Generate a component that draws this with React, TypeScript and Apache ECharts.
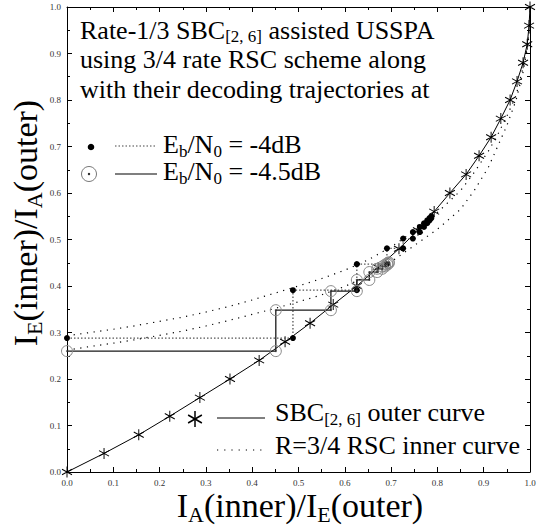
import React, { useEffect, useRef } from 'react';
import * as echarts from 'echarts';

// ---- data ----
const outerX = [0, 0.08, 0.155, 0.222, 0.287, 0.352, 0.415, 0.471, 0.525, 0.575, 0.626, 0.672, 0.717, 0.758, 0.793, 0.827, 0.862, 0.89, 0.916, 0.937, 0.957, 0.972, 0.985, 0.994, 0.998, 1.0];
const outerY = [0, 0.04, 0.08, 0.12, 0.16, 0.2, 0.24, 0.28, 0.32, 0.36, 0.4, 0.44, 0.48, 0.52, 0.56, 0.6, 0.64, 0.68, 0.72, 0.76, 0.8, 0.84, 0.88, 0.92, 0.96, 1.0];

const innerX = [0, 0.05, 0.1, 0.15, 0.2, 0.25, 0.3, 0.35, 0.4, 0.45, 0.5, 0.55, 0.6, 0.65, 0.7, 0.75, 0.8, 0.85, 0.88, 0.91, 0.93, 0.95, 0.97, 0.985, 0.995, 1.0];
const inner4Y = [0.293, 0.3, 0.307, 0.315, 0.324, 0.333, 0.344, 0.356, 0.37, 0.385, 0.4, 0.416, 0.434, 0.456, 0.484, 0.518, 0.558, 0.605, 0.645, 0.69, 0.725, 0.765, 0.81, 0.87, 0.92, 0.97];
const inner45Y = [0.262, 0.27, 0.277, 0.285, 0.294, 0.303, 0.314, 0.326, 0.339, 0.352, 0.366, 0.381, 0.399, 0.422, 0.452, 0.487, 0.522, 0.565, 0.606, 0.655, 0.7, 0.745, 0.8, 0.86, 0.915, 0.96];

const traj4X = [0, 0.488, 0.488, 0.626, 0.626, 0.691, 0.691, 0.726, 0.726, 0.747, 0.747, 0.762, 0.762, 0.771, 0.771, 0.778, 0.778, 0.783, 0.783, 0.787, 0.787];
const traj4Y = [0.288, 0.288, 0.391, 0.391, 0.447, 0.447, 0.481, 0.481, 0.502, 0.502, 0.516, 0.516, 0.527, 0.527, 0.535, 0.535, 0.541, 0.541, 0.546, 0.546, 0.55];

const traj45X = [0, 0.451, 0.451, 0.57, 0.57, 0.626, 0.626, 0.653, 0.653, 0.67, 0.67, 0.681, 0.681, 0.687, 0.687, 0.692, 0.692, 0.695, 0.695];
const traj45Y = [0.26, 0.26, 0.348, 0.348, 0.389, 0.389, 0.413, 0.413, 0.43, 0.43, 0.437, 0.437, 0.442, 0.442, 0.446, 0.446, 0.449, 0.449, 0.451];

const AXIS_MIN = 0;
const AXIS_MAX = 1;
const AXIS_STEP = 0.1;

const serif = "'Liberation Serif', 'Times New Roman', serif";
const asterisk = 'path://M0,-10L0,10M-8.66,-5L8.66,5M-8.66,5L8.66,-5';

const pairs = (xs: number[], ys: number[]) => xs.map((x, i) => [x, ys[i]]);

function buildOption(): any {
  const axisBase = (show: boolean) => ({
    type: 'value',
    min: AXIS_MIN,
    max: AXIS_MAX,
    interval: AXIS_STEP,
    axisLine: { show: true, onZero: false, lineStyle: { color: '#000', width: 1 } },
    axisTick: { show: true, inside: true, length: 5, lineStyle: { color: '#000', width: 1 } },
    minorTick: { show: true, splitNumber: 2, length: 3, lineStyle: { color: '#000', width: 1 } },
    splitLine: { show: false },
    minorSplitLine: { show: false },
    axisLabel: {
      show,
      fontSize: 9,
      fontFamily: serif,
      color: '#333',
      margin: 6,
      showMinLabel: true,
      showMaxLabel: true,
      formatter: (v: number) => v.toFixed(1),
    },
  });

  const m = (size: number, lh: number) => ({ fontSize: size, fontFamily: serif, lineHeight: lh, fill: '#000' });
  const s = (size: number, lh: number) => ({ fontSize: size, fontFamily: serif, lineHeight: lh, verticalAlign: 'bottom', fill: '#000' });

  const legendRich = { m: m(26, 29.5), s: s(17, 5) };
  const rowRich = { m: m(26, 30), s: s(17, 8) };
  const titleRich = { m: m(34, 40), s: s(22, 13) };

  const graphic = [
    {
      type: 'text', x: 80, y: 15.5, z: 100,
      style: {
        text: '{m|Rate-1/3 SBC}{s|[2, 6]}{m| assisted USSPA}\n{m|using 3/4 rate RSC scheme along}\n{m|with their decoding trajectories at}',
        rich: legendRich, align: 'left', verticalAlign: 'top', fontSize: 26, fontFamily: serif, fill: '#000',
      },
    },
    { type: 'circle', shape: { cx: 91, cy: 147, r: 3.3 }, style: { fill: '#000' }, z: 100 },
    { type: 'line', shape: { x1: 115, y1: 146, x2: 157, y2: 146 }, style: { stroke: '#444', lineWidth: 1.2, lineDash: [1.5, 2] }, z: 100 },
    {
      type: 'text', x: 163, y: 129.5, z: 100,
      style: { text: '{m|E}{s|b}{m|/N}{s|0}{m| = -4dB}', rich: rowRich, align: 'left', verticalAlign: 'top', fontSize: 26, fontFamily: serif, fill: '#000' },
    },
    { type: 'circle', shape: { cx: 89, cy: 174, r: 7.5 }, style: { fill: 'none', stroke: '#777', lineWidth: 1 }, z: 100 },
    { type: 'circle', shape: { cx: 89, cy: 174, r: 1.2 }, style: { fill: '#222' }, z: 100 },
    { type: 'line', shape: { x1: 115, y1: 174, x2: 157, y2: 174 }, style: { stroke: '#000', lineWidth: 1.2 }, z: 100 },
    {
      type: 'text', x: 163, y: 156.5, z: 100,
      style: { text: '{m|E}{s|b}{m|/N}{s|0}{m| = -4.5dB}', rich: rowRich, align: 'left', verticalAlign: 'top', fontSize: 26, fontFamily: serif, fill: '#000' },
    },
    // bottom legend
    { type: 'line', shape: { x1: 195, y1: 411, x2: 195, y2: 427 }, style: { stroke: '#000', lineWidth: 1.5 }, z: 100 },
    { type: 'line', shape: { x1: 188.1, y1: 415, x2: 201.9, y2: 423 }, style: { stroke: '#000', lineWidth: 1.5 }, z: 100 },
    { type: 'line', shape: { x1: 188.1, y1: 423, x2: 201.9, y2: 415 }, style: { stroke: '#000', lineWidth: 1.5 }, z: 100 },
    { type: 'line', shape: { x1: 217, y1: 418, x2: 265, y2: 418 }, style: { stroke: '#000', lineWidth: 1 }, z: 100 },
    {
      type: 'text', x: 275, y: 397.5, z: 100,
      style: { text: '{m|SBC}{s|[2, 6]}{m| outer curve}', rich: rowRich, align: 'left', verticalAlign: 'top', fontSize: 26, fontFamily: serif, fill: '#000' },
    },
    { type: 'line', shape: { x1: 217, y1: 450, x2: 265, y2: 450 }, style: { stroke: '#000', lineWidth: 1.2, lineDash: [1.2, 6] }, z: 100 },
    {
      type: 'text', x: 275, y: 430.5, z: 100,
      style: { text: '{m|R=3/4 RSC inner curve}', rich: rowRich, align: 'left', verticalAlign: 'top', fontSize: 26, fontFamily: serif, fill: '#000' },
    },
    // axis titles
    {
      type: 'text', x: 25, y: 223, rotation: Math.PI / 2, z: 100,
      style: { text: '{m|I}{s|E}{m|(inner)/I}{s|A}{m|(outer)}', rich: titleRich, align: 'center', verticalAlign: 'middle', fontSize: 34, fontFamily: serif, fill: '#000' },
    },
    {
      type: 'text', x: 300, y: 505, z: 100,
      style: { text: '{m|I}{s|A}{m|(inner)/I}{s|E}{m|(outer)}', rich: titleRich, align: 'center', verticalAlign: 'middle', fontSize: 34, fontFamily: serif, fill: '#000' },
    },
  ];

  return {
    animation: false,
    backgroundColor: '#fff',
    grid: { left: 67, right: 7, top: 7, bottom: 55, containLabel: false, outerBoundsMode: 'none' },
    xAxis: [
      { ...axisBase(true), position: 'bottom' },
      { ...axisBase(false), position: 'top' },
    ],
    yAxis: [
      { ...axisBase(true), position: 'left' },
      { ...axisBase(false), position: 'right' },
    ],
    graphic,
    series: [
      {
        type: 'line', name: 'inner -4dB', data: pairs(innerX, inner4Y), symbol: 'none', clip: false, z: 2,
        lineStyle: { color: '#000', width: 1.2, type: [1.2, 5.5] },
      },
      {
        type: 'line', name: 'inner -4.5dB', data: pairs(innerX, inner45Y), symbol: 'none', clip: false, z: 2,
        lineStyle: { color: '#000', width: 1.2, type: [1.2, 5.5] },
      },
      {
        type: 'line', name: 'outer', data: pairs(outerX, outerY), symbol: asterisk, symbolSize: [10, 11], clip: false, z: 3,
        itemStyle: { color: '#000', borderColor: '#000', borderWidth: 1 },
        lineStyle: { color: '#000', width: 1 },
      },
      {
        type: 'line', name: 'traj -4dB', data: pairs(traj4X, traj4Y), symbol: 'circle', symbolSize: 6, clip: false, z: 4,
        itemStyle: { color: '#000' },
        lineStyle: { color: '#555', width: 1.3, type: [1.5, 2] },
      },
      {
        type: 'line', name: 'traj -4.5dB', data: pairs(traj45X, traj45Y), symbol: 'circle', symbolSize: 11, clip: false, z: 5,
        itemStyle: { color: 'rgba(0,0,0,0)', borderColor: '#888', borderWidth: 1 },
        lineStyle: { color: '#1a1a1a', width: 1.3 },
      },
      {
        type: 'scatter', name: 'traj -4.5dB centres', data: pairs(traj45X, traj45Y), symbol: 'circle', symbolSize: 2, clip: false, z: 6,
        itemStyle: { color: '#333' },
      },
    ],
  };
}

export default function App() {
  const ref = useRef<HTMLDivElement>(null);
  useEffect(() => {
    if (!ref.current) return;
    const chart = echarts.init(ref.current, null, { renderer: 'svg' });
    chart.setOption(buildOption());
    return () => chart.dispose();
  }, []);
  return (
    <div
      ref={ref}
      style={{ position: 'fixed', left: 0, top: 0, width: 537, height: 527, background: '#fff' }}
    />
  );
}
